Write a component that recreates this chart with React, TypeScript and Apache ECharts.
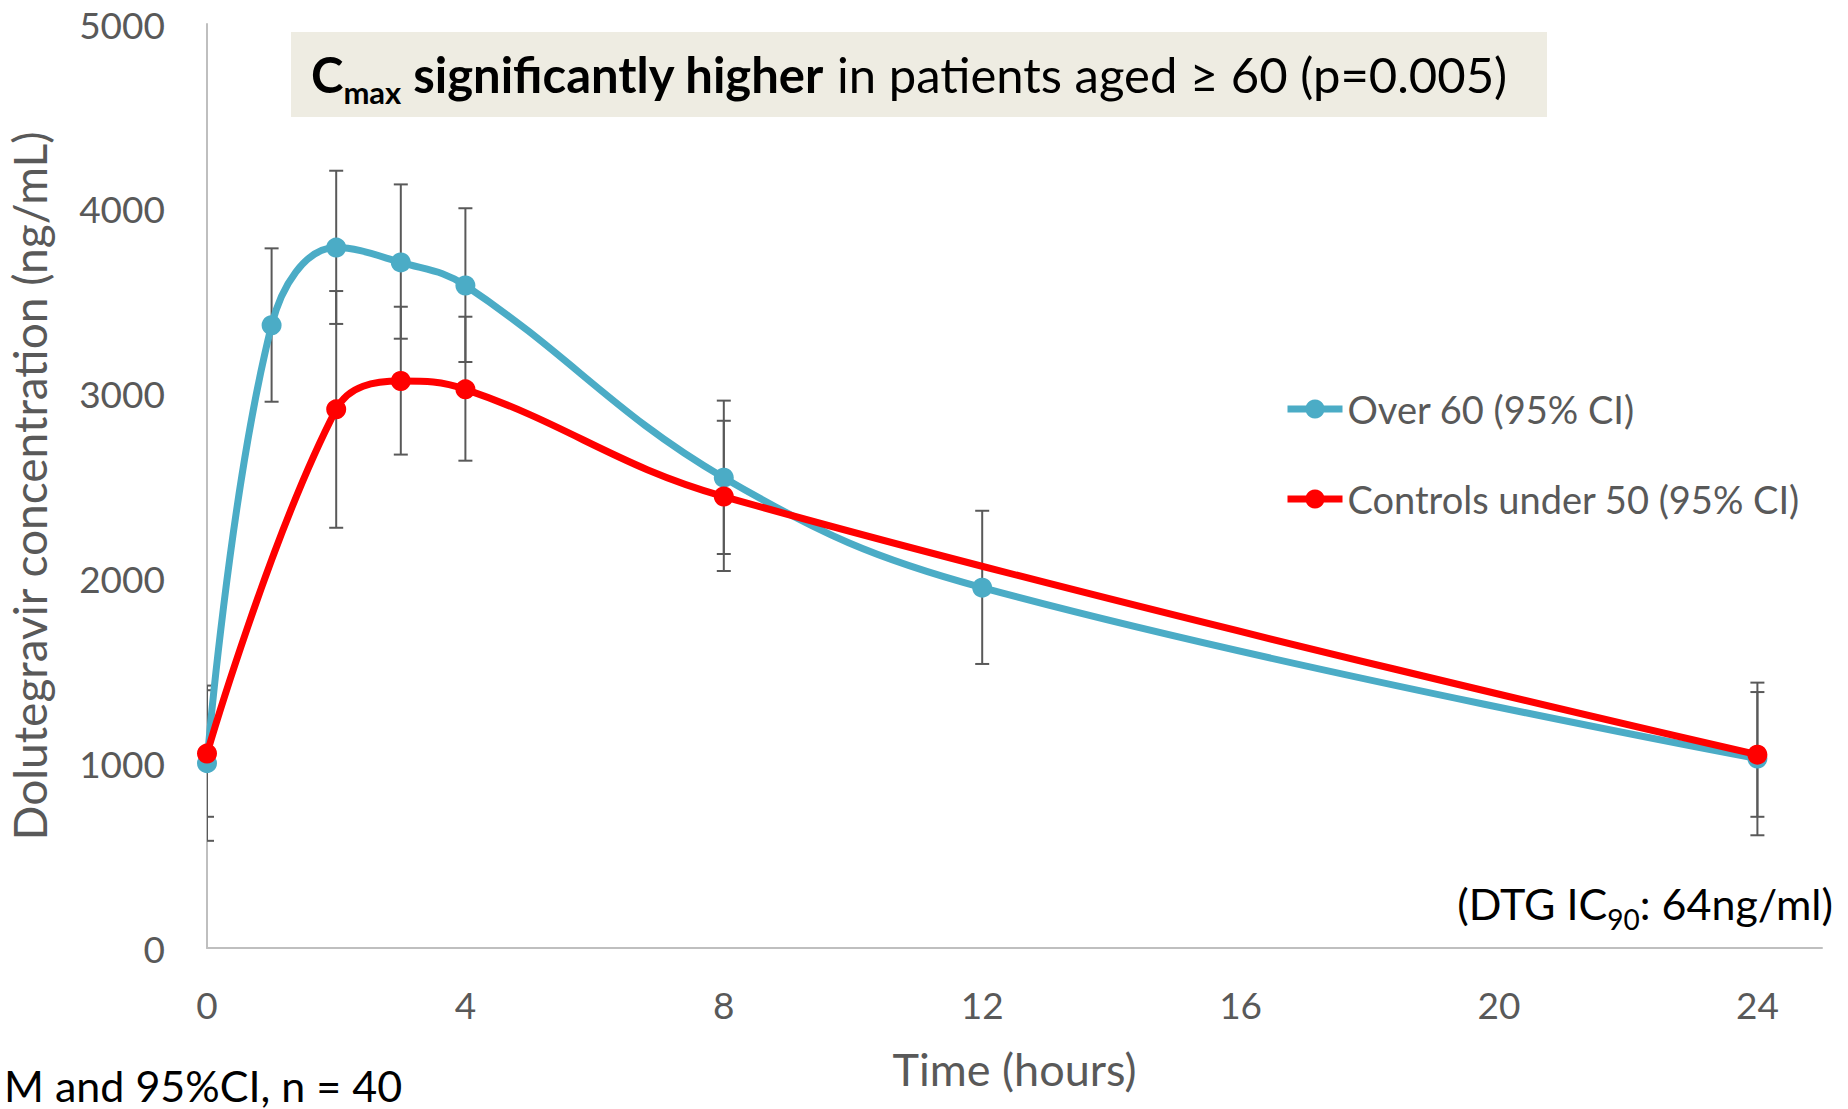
import React, { useEffect, useRef } from "react";
import * as echarts from "echarts";

const FONT = "Lato, 'Open Sans', sans-serif";
const GRAY = "#595959";

const xTicks = [0, 4, 8, 12, 16, 20, 24];
const yTicks = [0, 1000, 2000, 3000, 4000, 5000];

const over60Times = [0, 1, 2, 3, 4, 8, 12, 24];
const over60Mean = [1000, 3370, 3790, 3710, 3585, 2545, 1950, 1025];
const over60Low = [580, 2956, 3377, 3297, 3171, 2132, 1537, 610];
const over60High = [1420, 3786, 4206, 4132, 4003, 2962, 2366, 1436];

const controlTimes = [0, 2, 3, 4, 8, 24];
const controlMean = [1052, 2915, 3068, 3023, 2443, 1046];
const controlLow = [710, 2274, 2670, 2637, 2040, 710];
const controlHigh = [1395, 3555, 3470, 3416, 2853, 1385];

const seriesNames = ["Over 60 (95% CI)", "Controls under 50 (95% CI)"];
const seriesColors = ["#4BACC6", "#FF0000"];

function errorBarRender(params: any, api: any) {
  const x = api.value(0);
  const lo = api.coord([x, api.value(1)]);
  const hi = api.coord([x, api.value(2)]);
  const hw = 7;
  const style = { stroke: GRAY, lineWidth: 2 };
  return {
    type: "group",
    children: [
      { type: "line", shape: { x1: lo[0], y1: lo[1], x2: hi[0], y2: hi[1] }, style },
      { type: "line", shape: { x1: lo[0] - hw, y1: lo[1], x2: lo[0] + hw, y2: lo[1] }, style },
      { type: "line", shape: { x1: hi[0] - hw, y1: hi[1], x2: hi[0] + hw, y2: hi[1] }, style },
    ],
  };
}

export default function App() {
  const ref = useRef<HTMLDivElement>(null);
  useEffect(() => {
    if (!ref.current) return;
    const chart = echarts.init(ref.current, null, { renderer: "svg" });
    const over60Bars = over60Times.map((t, i) => [t, over60Low[i], over60High[i]]);
    const controlBars = controlTimes.map((t, i) => [t, controlLow[i], controlHigh[i]]);
    chart.setOption({
      animation: false,
      backgroundColor: "#ffffff",
      grid: {
        left: 207,
        right: 26,
        top: 24,
        bottom: 161,
        containLabel: false,
        outerBoundsMode: "none",
      },
      legend: {
        orient: "vertical",
        left: 1279,
        top: 385,
        itemWidth: 55,
        itemHeight: 24,
        itemGap: 52,
        data: seriesNames.map((n) => ({ name: n })),
        lineStyle: { width: 7 },
        textStyle: { fontSize: 38, color: GRAY, fontFamily: FONT },
      },
      xAxis: {
        type: "value",
        min: 0,
        max: 25,
        interval: 4,
        name: "Time (hours)",
        nameLocation: "middle",
        nameGap: 98,
        nameTextStyle: { fontSize: 45, color: GRAY, fontFamily: FONT },
        axisLine: { show: true, lineStyle: { color: "#BFBFBF", width: 2 } },
        axisTick: { show: false },
        splitLine: { show: false },
        axisLabel: {
          fontSize: 37,
          color: GRAY,
          fontFamily: FONT,
          margin: 38,
          formatter: (v: number) => (xTicks.includes(v) ? String(v) : ""),
        },
      },
      yAxis: {
        type: "value",
        min: 0,
        max: 5000,
        interval: 1000,
        name: "Dolutegravir concentration (ng/mL)",
        nameLocation: "middle",
        nameGap: 155,
        nameTextStyle: { fontSize: 46, color: GRAY, fontFamily: FONT },
        axisLine: { show: true, lineStyle: { color: "#BFBFBF", width: 2 } },
        axisTick: { show: false },
        splitLine: { show: false },
        axisLabel: {
          fontSize: 37,
          color: GRAY,
          fontFamily: FONT,
          margin: 42,
          formatter: (v: number) => (yTicks.includes(v) ? String(v) : ""),
        },
      },
      series: [
        {
          type: "custom",
          name: "over60-ci",
          renderItem: errorBarRender,
          data: over60Bars,
          encode: { x: 0, y: [1, 2] },
          clip: true,
          z: 1,
          silent: true,
        },
        {
          type: "custom",
          name: "control-ci",
          renderItem: errorBarRender,
          data: controlBars,
          encode: { x: 0, y: [1, 2] },
          clip: true,
          z: 1,
          silent: true,
        },
        {
          type: "line",
          name: seriesNames[0],
          data: over60Times.map((t, i) => [t, over60Mean[i]]),
          smooth: 0.4,
          symbol: "circle",
          symbolSize: 20,
          color: seriesColors[0],
          lineStyle: { width: 7, color: seriesColors[0] },
          itemStyle: { color: seriesColors[0] },
          z: 3,
        },
        {
          type: "line",
          name: seriesNames[1],
          data: controlTimes.map((t, i) => [t, controlMean[i]]),
          smooth: 0.4,
          symbol: "circle",
          symbolSize: 20,
          color: seriesColors[1],
          lineStyle: { width: 7, color: seriesColors[1] },
          itemStyle: { color: seriesColors[1] },
          z: 4,
        },
      ],
      graphic: [
        {
          type: "rect",
          shape: { x: 291, y: 32, width: 1256, height: 85 },
          style: { fill: "#EEECE2" },
          z: 10,
        },
        {
          type: "text",
          x: 311,
          y: 74,
          z: 11,
          style: {
            text: "{b|C}{bs|max}{b| significantly higher}{n| in patients aged ≥ 60 (p=0.005)}",
            verticalAlign: "middle",
            align: "left",
            rich: {
              b: { fontSize: 49, fontWeight: "bold", fontFamily: FONT, fill: "#000", lineHeight: 66, verticalAlign: "middle" },
              bs: { fontSize: 31, fontWeight: "bold", fontFamily: FONT, fill: "#000", lineHeight: 66, verticalAlign: "bottom" },
              n: { fontSize: 49, fontFamily: FONT, fill: "#000", lineHeight: 66, verticalAlign: "middle" },
            },
          },
        },
        {
          type: "text",
          x: 1833,
          y: 903,
          z: 11,
          style: {
            text: "{n|(DTG IC}{s|90}{n|: 64ng/ml)}",
            align: "right",
            verticalAlign: "middle",
            rich: {
              n: { fontSize: 43, fontFamily: FONT, fill: "#000", lineHeight: 60, verticalAlign: "middle" },
              s: { fontSize: 28, fontFamily: FONT, fill: "#000", lineHeight: 60, verticalAlign: "bottom" },
            },
          },
        },
        {
          type: "text",
          x: 4,
          y: 1085,
          z: 11,
          style: {
            text: "M and 95%CI, n = 40",
            fontSize: 43,
            fontFamily: FONT,
            fill: "#000",
            align: "left",
            verticalAlign: "middle",
          },
        },
      ],
    });
    return () => chart.dispose();
  }, []);
  return (
    <div
      ref={ref}
      style={{ position: "fixed", left: 0, top: 0, width: 1848, height: 1109 }}
    />
  );
}
